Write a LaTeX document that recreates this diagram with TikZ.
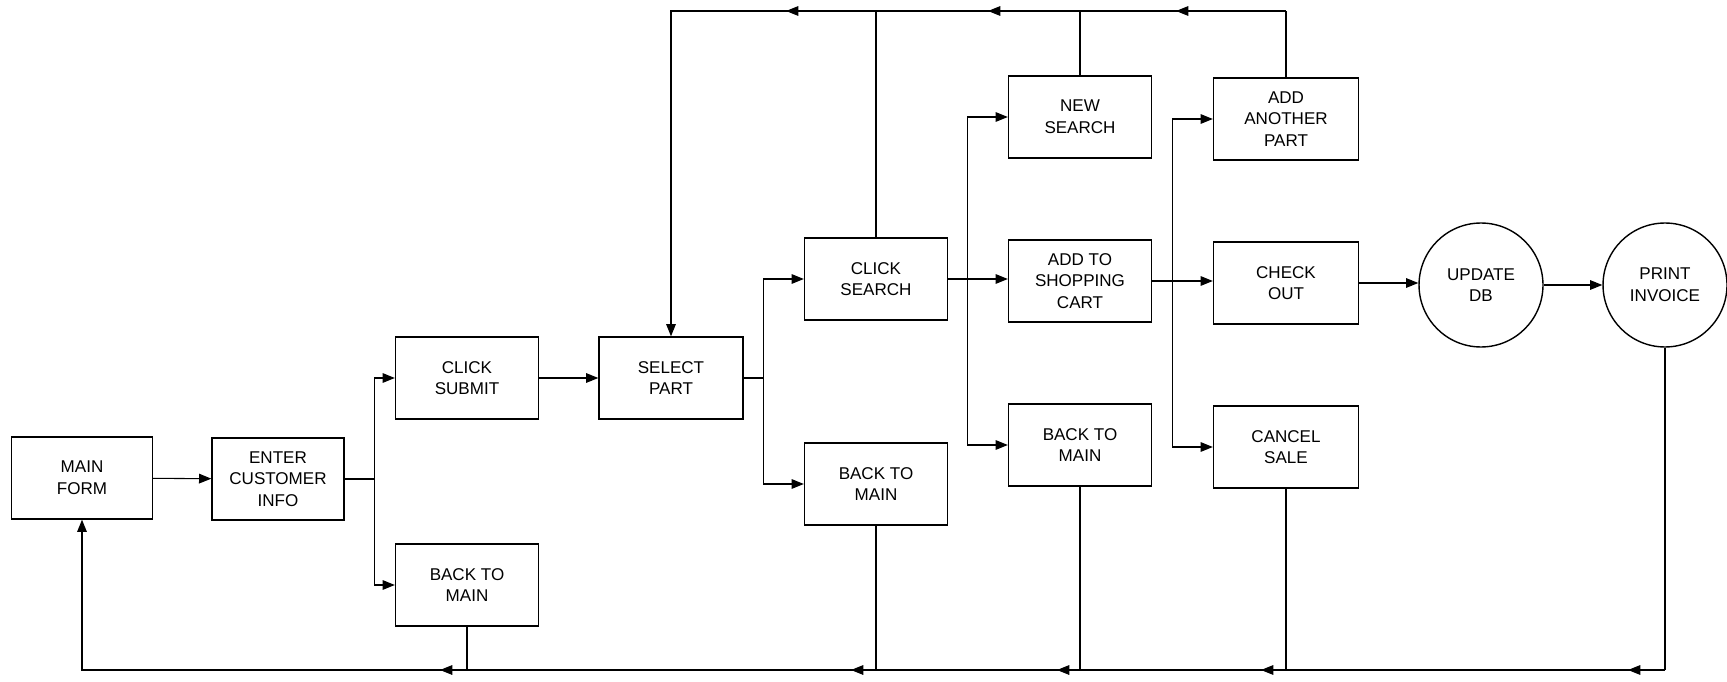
\documentclass[tikz,border=0pt]{standalone}
\usepackage{fontspec}
\setmainfont{Liberation Sans}
\usetikzlibrary{arrows.meta,decorations.markings}
\newcommand\boxfont{\fontsize{9.7}{12.3}\selectfont}

\begin{document}
\begin{tikzpicture}[x=0.02cm,y=-0.02cm,
   box/.style={draw,line width=.8pt,minimum width=2.86cm,minimum height=1.64cm,inner sep=1pt,align=center,font=\boxfont},
   ball/.style={draw,circle,line width=.8pt,minimum size=2.48cm,inner sep=1pt,align=center,font=\boxfont},
   line/.style={line width=.6pt},
   retn/.style={line,postaction={decorate},decoration={markings,mark=at position #1 with {\arrow{>}}}},
   >={Triangle[length=7pt,width=5.5pt]}]
   \useasboundingbox (0,0) rectangle (1727,682);

   \node[box,minimum width=2.82cm] (main) at (82,478) {MAIN\\FORM};
   \node[box,minimum width=2.64cm] (enter) at (278,479) {ENTER\\CUSTOMER\\INFO};
   \node[box] (submit) at (467,378) {CLICK\\SUBMIT};
   \node[box] (back1) at (467,585) {BACK TO\\MAIN};
   \node[box,minimum width=2.88cm] (select) at (671,378) {SELECT\\PART};
   \node[box] (search) at (876,279) {CLICK\\SEARCH};
   \node[box] (back2) at (876,484) {BACK TO\\MAIN};
   \node[box] (new) at (1080,117) {NEW\\SEARCH};
   \node[box] (cart) at (1080,281) {ADD TO\\SHOPPING\\CART};
   \node[box] (back3) at (1080,445) {BACK TO\\MAIN};
   \node[box,minimum width=2.9cm] (another) at (1286,119) {ADD\\ANOTHER\\PART};
   \node[box,minimum width=2.9cm] (check) at (1286,283) {CHECK\\OUT};
   \node[box,minimum width=2.9cm] (cancel) at (1286,447) {CANCEL\\SALE};
   \node[ball] (update) at (1481,285) {UPDATE\\DB};
   \node[ball] (print) at (1665,285) {PRINT\\INVOICE};

   \coordinate (top) at (0,11);
   \coordinate (bot) at (0,670);
   \coordinate (t0) at (select.north |- top);
   \coordinate (t1) at (search.north |- top);
   \coordinate (t2) at (new.north |- top);
   \coordinate (t3) at (another.north |- top);
   \coordinate (b0) at (main.south |- bot);
   \coordinate (b1) at (back1.south |- bot);
   \coordinate (b2) at (back2.south |- bot);
   \coordinate (b3) at (back3.south |- bot);
   \coordinate (b4) at (cancel.south |- bot);
   \coordinate (b5) at (print.south |- bot);

   \draw[line,->] (main) -- (enter);
   \draw[line,->] (enter.east) -- ++(30,0) |- (submit);
   \draw[line,->] (enter.east) -- ++(30,0) |- (back1);
   \draw[line,->] (submit) -- (select);
   \draw[line,->] (select.east) -- ++(20,0) |- (search);
   \draw[line,->] (select.east) -- ++(20,0) |- (back2);
   \draw[line,->] (search.east) -- ++(19,0) |- (new);
   \draw[line,->] (search.east) -- (search.east -| cart.west);
   \draw[line,->] (search.east) -- ++(19,0) |- (back3);
   \draw[line,->] (cart.east) -- ++(20,0) |- (another);
   \draw[line,->] (cart.east) -- (cart.east -| check.west);
   \draw[line,->] (cart.east) -- ++(20,0) |- (cancel);
   \draw[line,->] (check.east) -- (check.east -| update.west);
   \draw[line,->] (update) -- (print);

   \draw[line] (another) -- (t3);
   \draw[line] (new) -- (t2);
   \draw[line] (search) -- (t1);
   \draw[retn=2.2cm] (t3) -- (t2);
   \draw[retn=1.84cm] (t2) -- (t1);
   \draw[retn=1.8cm,->] (t1) -- (t0) -- (select);

   \draw[line] (print) -- (b5);
   \draw[line] (cancel) -- (b4);
   \draw[line] (back3) -- (b3);
   \draw[line] (back2) -- (b2);
   \draw[line] (back1) -- (b1);
   \draw[retn=0.74cm] (b5) -- (b4);
   \draw[retn=0.5cm] (b4) -- (b3);
   \draw[retn=0.46cm] (b3) -- (b2);
   \draw[retn=0.5cm] (b2) -- (b1);
   \draw[retn=0.54cm,->] (b1) -- (b0) -- (main);
\end{tikzpicture}
\end{document}
